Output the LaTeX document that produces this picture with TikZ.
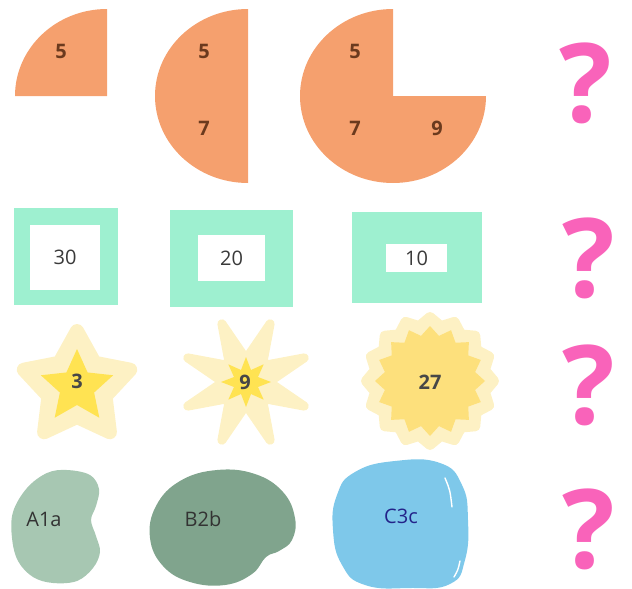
\documentclass[tikz,border=0pt]{standalone}
\usepackage{fontspec}
\setmainfont{Open Sans}
\usetikzlibrary{calc}
\definecolor{pzorange}{HTML}{F5A06E}
\definecolor{pzbrown}{HTML}{6B3A1E}
\definecolor{pzmint}{HTML}{9EF0D0}
\definecolor{pzpale}{HTML}{FDF1C4}
\definecolor{pzsun}{HTML}{FFE352}
\definecolor{pzgold}{HTML}{FDE07C}
\definecolor{pzsage}{HTML}{A7C7B2}
\definecolor{pzmoss}{HTML}{80A48D}
\definecolor{pzsky}{HTML}{7EC8EA}
\definecolor{pzpink}{HTML}{F963BA}
\definecolor{pzink}{HTML}{3A3A3A}

\begin{document}
\begin{tikzpicture}[x=1pt, y=1pt,
    pie/.style={fill=pzorange},
    piecount/.style={font=\fontsize{20}{24}\selectfont\bfseries, text=pzbrown},
    frame/.style={rectangle, fill=pzmint, inner sep=0pt},
    hole/.style={rectangle, fill=white, inner sep=0pt,
                 font=\fontsize{20}{24}\selectfont, text=pzink},
    glow/.style={fill=pzpale, draw=pzpale, line join=round},
    core/.style={fill=#1},
    starcount/.style={font=\fontsize{20}{24}\selectfont\bfseries, text=black!72},
    blob/.style={fill=#1},
    blobname/.style={font=\fontsize{20}{24}\selectfont, text=#1},
    shine/.style={draw=white, line width=1.4pt, line cap=round},
    mystery/.style={font=\fontsize{110}{110}\selectfont\bfseries, text=pzpink, inner sep=0pt}
  ]
    \useasboundingbox (0,0) rectangle (632,-589);

    % row 1: pieces of a disc
    \fill[pie] (107,-96) -- (15,-96) arc[start angle=180, end angle=90, x radius=92, y radius=87] -- cycle;
    \fill[pie] (248,-9) arc[start angle=90, end angle=270, x radius=93, y radius=87] -- cycle;
    \fill[pie] (393,-96) -- (393,-9) arc[start angle=90, end angle=360, x radius=93, y radius=87] -- cycle;

    \node[piecount] (qa5) at (61,-51) {5};
    \node[piecount] (ha5) at (204,-51) {5};
    \node[piecount] (ha7) at (204,-128) {7};
    \node[piecount] (ta5) at (355,-51) {5};
    \node[piecount] (ta7) at (355,-128) {7};
    \node[piecount] (ta9) at (437,-128) {9};

    % row 2: frames
    \node[frame, minimum width=104pt, minimum height=97pt] (f30) at (66,-256.5) {};
    \node[hole, minimum width=70pt, minimum height=65pt] (h30) at (65,-257.5) {30};
    \node[frame, minimum width=123pt, minimum height=97pt] (f20) at (231.5,-258.5) {};
    \node[hole, minimum width=67pt, minimum height=46pt] (h20) at (231.5,-258) {20};
    \node[frame, minimum width=130pt, minimum height=91pt] (f10) at (417,-257.5) {};
    \node[hole, minimum width=61pt, minimum height=28pt] (h10) at (416.5,-258) {10};

    % row 3: stars
    \coordinate (s1) at (77,-387);
    \coordinate (s2) at (246,-382);
    \coordinate (s3) at (430,-381);

    \path[glow, line width=14pt] ($(s1)+(90:56)$)
      \foreach \k in {1,...,9} { -- ($(s1)+({90+36*\k}:{56-26*mod(\k,2)})$) } -- cycle;
    \path[core=pzsun] ($(s1)+(90:38)$)
      \foreach \k in {1,...,9} { -- ($(s1)+({90+36*\k}:{38-20*mod(\k,2)})$) } -- cycle;

    \path[glow, line width=9pt] ($(s2)+(22.5:63)$)
      \foreach \k in {1,...,15} { -- ($(s2)+({22.5+22.5*\k}:{63-40*mod(\k,2)})$) } -- cycle;
    \path[core=pzsun] ($(s2)+(90:25)$)
      \foreach \k in {1,...,15} { -- ($(s2)+({90+22.5*\k}:{25-12*mod(\k,2)})$) } -- cycle;

    \path[glow, line width=10pt] ($(s3)+(90:64)$)
      \foreach \k in {1,...,31} { -- ($(s3)+({90+11.25*\k}:{64-8*mod(\k,2)})$) } -- cycle;
    \path[core=pzgold] ($(s3)+(90:55)$)
      \foreach \k in {1,...,31} { -- ($(s3)+({90+11.25*\k}:{55-9*mod(\k,2)})$) } -- cycle;

    \node[starcount] (n3) at (77,-381) {3};
    \node[starcount] (n9) at (245,-382) {9};
    \node[starcount] (n27) at (430,-382) {27};

    % row 4: blobs
    \fill[blob=pzsage] plot[smooth cycle, tension=0.6] coordinates {
      (67,-470) (90,-475) (99,-489) (96,-506) (91,-520) (96,-536) (100,-552) (93,-568)
      (77,-581) (53,-583) (33,-577) (18,-561) (12,-538) (13,-512) (27,-488) (47,-473)};
    \fill[blob=pzmoss] plot[smooth cycle, tension=0.7] coordinates {
      (217,-470) (255,-474) (283,-492) (295,-518) (292,-540) (279,-551) (266,-557)
      (252,-574) (225,-585) (190,-582) (163,-566) (150,-538) (156,-506) (180,-481)};
    \fill[blob=pzsky] plot[smooth cycle, tension=0.8] coordinates {
      (395,-461) (440,-463) (462,-485) (468,-520) (465,-560) (450,-584) (410,-588)
      (365,-585) (342,-565) (333,-530) (337,-495) (355,-472)};
    \draw[shine] (445,-478) .. controls (450,-490) .. (452,-507);
    \draw[shine] (460,-561) .. controls (458,-570) .. (454,-577);

    \node[blobname=black!80] (na) at (44,-519) {A1a};
    \node[blobname=black!80] (nb) at (203,-519) {B2b};
    \node[blobname=pzink!60!blue] (nc) at (401,-516) {C3c};

    % column of question marks
    \node[mystery] (m1) at (586,-83) {?};
    \node[mystery] (m2) at (589,-258) {?};
    \node[mystery] (m3) at (589,-385) {?};
    \node[mystery] (m4) at (589,-529) {?};
  \end{tikzpicture}
\end{document}
